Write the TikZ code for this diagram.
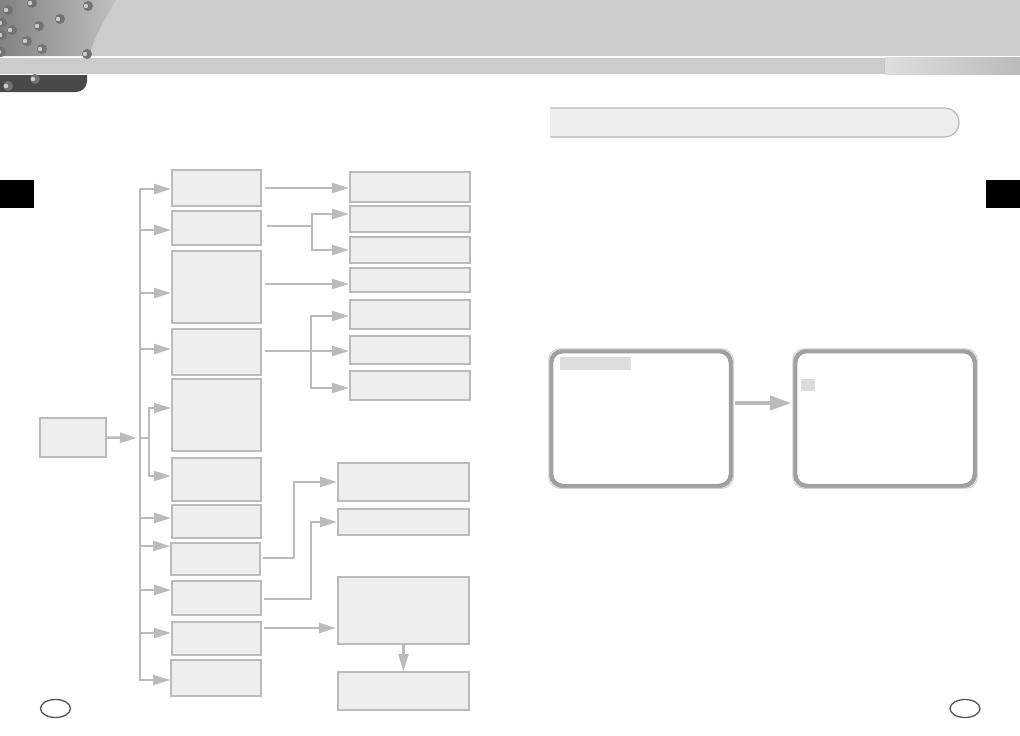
\documentclass[tikz,border=0pt]{standalone}
\usepackage{tikz}
\usetikzlibrary{arrows.meta, positioning, shapes.geometric}
\usepackage{xcolor}
\definecolor{linegray}{RGB}{187, 187, 187}
\definecolor{boxfill}{RGB}{238, 238, 238}
\definecolor{headgray}{RGB}{204, 204, 204}
\definecolor{framegray}{RGB}{160, 160, 160}
\definecolor{markgray}{RGB}{221, 221, 221}
\definecolor{pagegray}{RGB}{85, 85, 85}

\begin{document}
\begin{tikzpicture}[
  x=1pt, y=-1pt,
  box/.style={rectangle, draw=linegray, line width=2pt, fill=boxfill,
              inner sep=0pt, minimum width=89},
  wide/.style={box, minimum width=120},
  lower/.style={box, minimum width=131},
  arrow/.style={-{Triangle[length=17pt, width=10pt]}, line width=2.5pt, color=linegray},
  bigarrow/.style={-{Triangle[length=22pt, width=14pt]}, line width=4.5pt, color=linegray},
  feed/.style={line width=2.5pt, color=linegray},
  monitor/.style={rectangle, rounded corners=12pt, draw=framegray, line width=4.5pt,
                  fill=white, inner sep=0pt, minimum width=180, minimum height=135},
  highlight/.style={rectangle, fill=markgray, inner sep=0pt},
  pagenum/.style={ellipse, draw=pagegray, line width=1.3pt, inner sep=0pt,
                  minimum width=30, minimum height=18}
]
  \useasboundingbox (0,0) rectangle (1020,736);
  \fill[white] (0,0) rectangle (1020,736);

  % header
  \fill[headgray] (0,0) rectangle (1020,56);
  \fill[headgray] (0,57.5) rectangle (1020,74);
  \shade[left color={rgb,255:red,222;green,222;blue,222}, right color={rgb,255:red,187;green,187;blue,187}]
    (885,57.5) rectangle (1020,74);
  \draw[color={rgb,255:red,196;green,196;blue,196}, line width=1.5pt] (884.5,57.5) -- (884.5,74);
  \shade[left color={rgb,255:red,130;green,130;blue,130}, right color={rgb,255:red,192;green,192;blue,192}]
    (0,0) -- (116,0) .. controls (104,20) and (94,38) .. (89,56) -- (0,56) -- cycle;
  \fill[color={rgb,255:red,72;green,72;blue,72}]
    (0,75) -- (87,75) -- (87,81) arc[start angle=0, end angle=90, radius=11] -- (0,92) -- cycle;
  \foreach \dx/\dy in {32/3, 8/10, 88/6, 60/19, 39/26, 12/30, 2/23, 27/41, 42/49, 2/35, 1/52, 87/54, 35/79, 8/86} {
    \fill[color={rgb,255:red,115;green,115;blue,115}] (\dx,\dy) circle (5);
    \fill[color={rgb,255:red,205;green,205;blue,205}] (\dx-2,\dy) circle (2.2);
  }

  % side tabs
  \fill[black] (0,180) rectangle (34,208);
  \fill[black] (986,180) rectangle (1020,208);

  % menu tree
  \node[box, minimum width=66, minimum height=39] (root) at (73,437.5) {};

  \node[box, minimum height=36] (b1) at (216.5,188) {};
  \node[box, minimum height=34] (b2) at (216.5,228) {};
  \node[box, minimum height=72] (b3) at (216.5,287) {};
  \node[box, minimum height=46] (b4) at (216.5,352) {};
  \node[box, minimum height=72] (b5) at (216.5,415) {};
  \node[box, minimum height=43] (b6) at (216.5,479.5) {};
  \node[box, minimum height=33] (b7) at (216.5,521.5) {};
  \node[box, minimum height=32] (b8) at (215.5,559) {};
  \node[box, minimum height=34] (b9) at (216.5,598) {};
  \node[box, minimum height=33] (b10) at (216.5,638.5) {};
  \node[box, minimum width=90, minimum height=36] (b11) at (216,678) {};

  \node[wide, minimum height=30] (c1) at (410,187) {};
  \node[wide, minimum height=26] (c2) at (410,219) {};
  \node[wide, minimum height=26] (c3) at (410,250) {};
  \node[wide, minimum height=24] (c4) at (410,280) {};
  \node[wide, minimum height=29] (c5) at (410,314.5) {};
  \node[wide, minimum height=28] (c6) at (410,350) {};
  \node[wide, minimum height=29] (c7) at (410,385.5) {};

  \node[lower, minimum height=38] (d1) at (403.5,482) {};
  \node[lower, minimum height=26] (d2) at (403.5,522) {};
  \node[lower, minimum height=67] (d3) at (403.5,610.5) {};
  \node[lower, minimum height=38] (d4) at (403.5,691) {};

  \coordinate (fork) at (140,438);
  \coordinate (fork2) at (149,438);
  \coordinate (split2) at (312,226);
  \coordinate (split4) at (311,351);
  \coordinate (up8) at (294,482);
  \coordinate (up9) at (311,522);

  \draw[arrow, shorten >=3pt] (root.east) -- (fork);
  \draw[arrow] (fork) |- ([yshift=-1pt]b1.west);
  \draw[arrow] (fork) |- ([yshift=-2pt]b2.west);
  \draw[arrow] (fork) |- ([yshift=-6pt]b3.west);
  \draw[arrow] (fork) |- ([yshift=3pt]b4.west);
  \draw[arrow] (fork) -- (fork2) |- ([yshift=7pt]b5.west);
  \draw[arrow] (fork2) |- ([yshift=3.5pt]b6.west);
  \draw[arrow] (fork) |- ([yshift=3.5pt]b7.west);
  \draw[arrow] (fork) |- ([yshift=13pt]b8.west);
  \draw[arrow] (fork) |- ([yshift=8pt]b9.west);
  \draw[arrow] (fork) |- ([yshift=5.5pt]b10.west);
  \draw[arrow] (fork) |- ([yshift=-2pt]b11.west);

  \draw[arrow, shorten <=3pt] (b1.east) -- (b1.east -| c1.west);
  \draw[feed, shorten <=5pt] ([yshift=2pt]b2.east) -- (split2);
  \draw[arrow] (split2) |- ([yshift=5pt]c2.west);
  \draw[arrow] (split2) |- (c3.west);
  \draw[arrow, shorten <=3pt] ([yshift=3pt]b3.east) -- ([yshift=3pt]b3.east -| c4.west);
  \draw[arrow, shorten <=3pt] ([yshift=1pt]b4.east) -- ([yshift=1pt]b4.east -| c6.west);
  \draw[arrow] (split4) |- ([yshift=-1.5pt]c5.west);
  \draw[arrow] (split4) |- ([yshift=-2.5pt]c7.west);

  \draw[arrow, shorten <=2pt] ([yshift=1pt]b8.east) -| (up8) -- (d1.west);
  \draw[arrow, shorten <=2pt] ([yshift=-1pt]b9.east) -| (up9) -- (d2.west);
  \draw[arrow, shorten <=2pt, shorten >=1pt] ([yshift=10.5pt]b10.east) -- ([yshift=10.5pt]b10.east -| d3.west);
  \draw[arrow] (d3.south) -- (d4.north);

  % title bar
  \fill[boxfill] (550,108) -- (944.5,108) arc[start angle=-90, end angle=90, radius=14.5] -- (550,137) -- cycle;
  \draw[linegray, line width=1.3pt] (550,108) -- (944.5,108) arc[start angle=-90, end angle=90, radius=14.5] -- (550,137);

  % screens
  \node[monitor] (menu) at (641,418.5) {};
  \node[monitor] (sub) at (885,418.5) {};
  \draw[framegray!45!white, line width=1pt, rounded corners=11pt]
    (menu.north west) rectangle (menu.south east);
  \draw[framegray!45!white, line width=1pt, rounded corners=11pt]
    (sub.north west) rectangle (sub.south east);
  \node[highlight, minimum width=71, minimum height=13] (cursor) at (595.5,363.5) {};
  \node[highlight, minimum width=14, minimum height=12] (point) at (808,385) {};
  \draw[bigarrow, shorten <=2pt, shorten >=1pt] ([yshift=15.5pt]menu.east) -- ([yshift=15.5pt]sub.west);

  % page numbers
  \node[pagenum] (pleft) at (55.5,708.5) {};
  \node[pagenum] (pright) at (965,708.5) {};
\end{tikzpicture}
\end{document}
